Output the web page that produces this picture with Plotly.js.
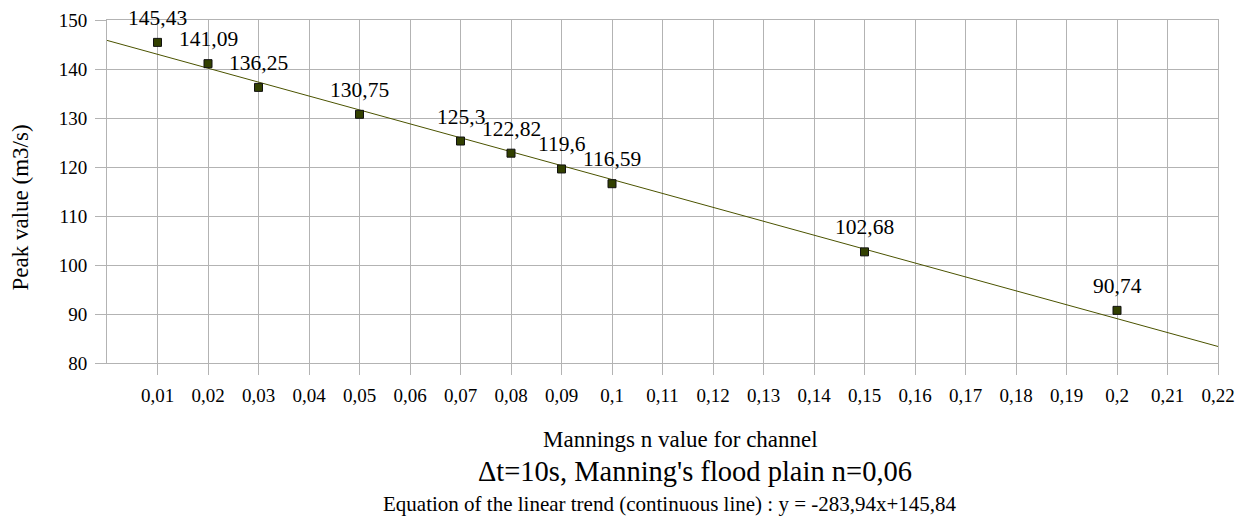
<!DOCTYPE html>
<html>
<head>
<meta charset="utf-8">
<script src="https://cdn.plot.ly/plotly-3.0.1.min.js"></script>
<style>html,body{margin:0;padding:0;background:#fff}#chart{width:1242px;height:516px}</style>
</head>
<body>
<div id="chart"></div>
<script>
const manningN = [0.01, 0.02, 0.03, 0.05, 0.07, 0.08, 0.09, 0.1, 0.15, 0.2];
const peakValue = [145.43, 141.09, 136.25, 130.75, 125.3, 122.82, 119.6, 116.59, 102.68, 90.74];
const trendX = [0, 0.22];
const trendY = [145.84, 83.3732];
const xTickVals = [0.01,0.02,0.03,0.04,0.05,0.06,0.07,0.08,0.09,0.1,0.11,0.12,0.13,0.14,0.15,0.16,0.17,0.18,0.19,0.2,0.21,0.22];
const xTickText = ['0,01','0,02','0,03','0,04','0,05','0,06','0,07','0,08','0,09','0,1','0,11','0,12','0,13','0,14','0,15','0,16','0,17','0,18','0,19','0,2','0,21','0,22'];
const yTickVals = [80, 90, 100, 110, 120, 130, 140, 150];

const xTitle = 'Mannings n value for channel';
const yTitle = 'Peak value (m3/s)';
const subtitle = 'Δt=10s, Manning\'s flood plain n=0,06';
const equation = 'Equation of the linear trend (continuous line) : y = -283,94x+145,84';

const fmt = v => String(v).replace('.', ',');
const FONT = 'Liberation Serif, Times New Roman, serif';
const GRID = '#b3b3b3';

const traces = [
  {x: trendX, y: trendY, mode: 'lines', line: {color: '#4b5300', width: 1}, hoverinfo: 'skip', showlegend: false},
  {x: manningN, y: peakValue, mode: 'markers',
   marker: {symbol: 'square', size: 8, color: '#324000', line: {color: '#111', width: 1}},
   showlegend: false}
];

const annotations = manningN.map((n, i) => ({
  x: n, y: peakValue[i], xref: 'x', yref: 'y', text: fmt(peakValue[i]),
  showarrow: false, yshift: 24.5, font: {family: FONT, size: 21.5, color: '#000'}
}));
annotations.push({xref: 'paper', yref: 'paper', x: 0.5166, y: -0.2225, xanchor: 'center', yanchor: 'middle',
  text: xTitle, showarrow: false, font: {family: FONT, size: 23, color: '#000'}});
annotations.push({xref: 'paper', yref: 'paper', x: 0.529, y: -0.3149, xanchor: 'center', yanchor: 'middle',
  text: subtitle, showarrow: false, font: {family: FONT, size: 28.5, color: '#000'}});
annotations.push({xref: 'paper', yref: 'paper', x: 0.5068, y: -0.411, xanchor: 'center', yanchor: 'middle',
  text: equation, showarrow: false, font: {family: FONT, size: 21, color: '#000'}});
annotations.push({xref: 'paper', yref: 'paper', x: -0.0783, y: 0.4534, xanchor: 'center', yanchor: 'middle', textangle: -90,
  text: yTitle, showarrow: false, font: {family: FONT, size: 23, color: '#000'}});

const layout = {
  width: 1242, height: 516,
  margin: {l: 107, r: 24, t: 20, b: 153},
  paper_bgcolor: '#fff', plot_bgcolor: '#fff',
  font: {family: FONT, size: 19, color: '#000'},
  showlegend: false,
  xaxis: {
    range: [0, 0.22], tickvals: xTickVals, ticktext: xTickText,
    showgrid: true, gridcolor: GRID, gridwidth: 1,
    showline: true, linecolor: GRID, linewidth: 1, mirror: true,
    ticks: 'outside', ticklen: 11, tickcolor: GRID,
    ticklabelstandoff: 4,
    tickfont: {family: FONT, size: 19, color: '#000'},
    zeroline: false
  },
  yaxis: {
    range: [80, 150], tickvals: yTickVals,
    showgrid: true, gridcolor: GRID, gridwidth: 1,
    showline: true, linecolor: GRID, linewidth: 1, mirror: true,
    ticks: 'outside', ticklen: 11, tickcolor: GRID,
    ticklabelstandoff: 4,
    tickfont: {family: FONT, size: 19, color: '#000'},
    zeroline: false
  },
  annotations: annotations
};

Plotly.newPlot('chart', traces, layout, {staticPlot: true, displayModeBar: false});
</script>
</body>
</html>
